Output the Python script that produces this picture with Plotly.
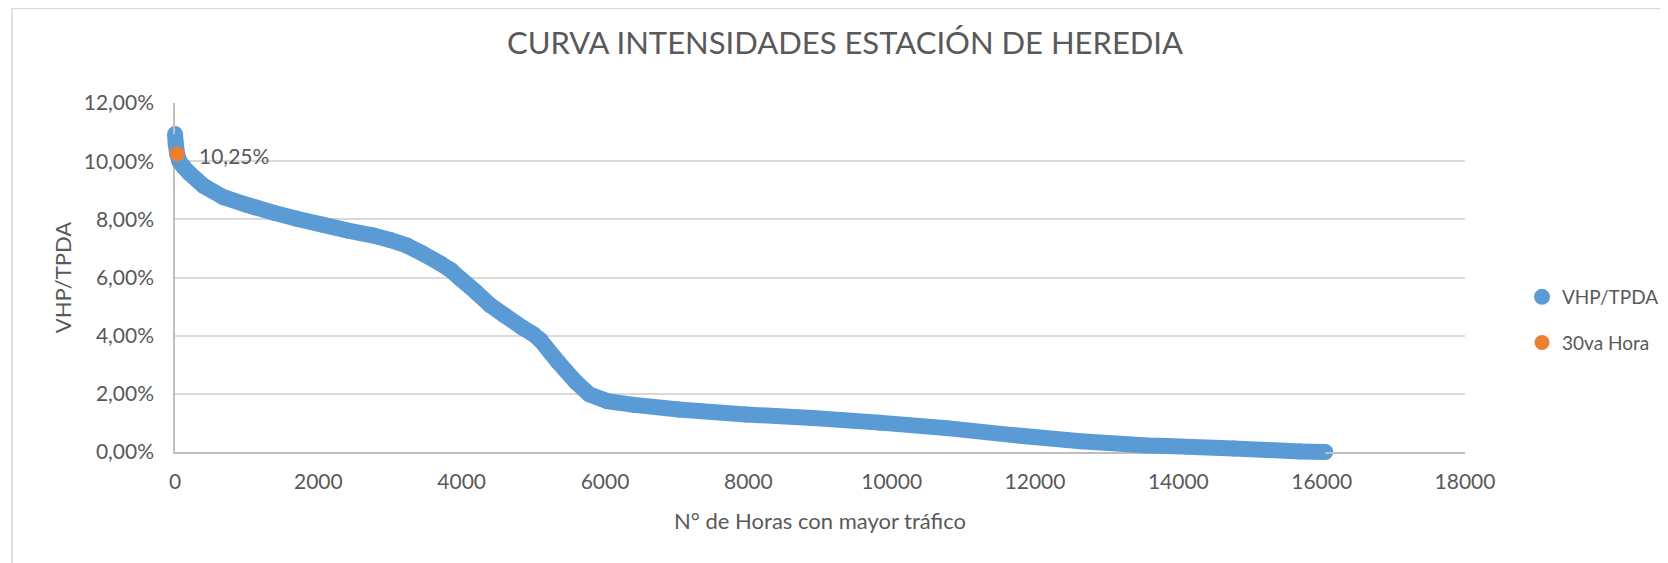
import plotly.graph_objects as go

# ---- data ----
hours = [1, 10, 30, 60, 120, 209, 400, 675, 1000, 1372, 1700, 2070, 2400, 2768,
         3000, 3233, 3450, 3698, 3850, 3977, 4200, 4396, 4600, 4847, 5000, 5097,
         5346, 5595, 5782, 6031, 6405, 7028, 7963, 8897, 9832, 10766, 11701,
         12636, 13570, 13841, 14771, 15701, 16050]
ratio = [0.1093, 0.1060, 0.1025, 0.1000, 0.0980, 0.0957, 0.0915, 0.0876, 0.0850,
         0.0823, 0.0802, 0.0781, 0.0762, 0.0744, 0.0729, 0.0710, 0.0683, 0.0649,
         0.0625, 0.0597, 0.0550, 0.0505, 0.0470, 0.0428, 0.0405, 0.0385, 0.0309,
         0.0240, 0.0198, 0.0175, 0.0162, 0.0146, 0.0129, 0.0117, 0.0101, 0.0082,
         0.0058, 0.0037, 0.0022, 0.0021, 0.0012, 0.0002, 0.0000]

hour30 = [30]
ratio30 = [0.1025]

x_range = [0, 18000]
y_range = [0, 0.12]
x_ticks = [0, 2000, 4000, 6000, 8000, 10000, 12000, 14000, 16000, 18000]
y_ticks = [0.00, 0.02, 0.04, 0.06, 0.08, 0.10, 0.12]

BLUE = "#5B9BD5"
ORANGE = "#ED7D31"
GREY = "#595959"
FONT = "Lato"

# ---- layout geometry (page pixels; the page adds an 8px body margin) ----
OFF = 8
W, H = 1668 - OFF, 563 - OFF
PX0, PX1, PY0, PY1 = 175, 1465, 103, 452     # main plot area (page px)
EXT = 12                                      # extra room so the thick band is not clipped
QX0, QX1, QY0, QY1 = PX0 - EXT, PX1 + EXT, PY0 - EXT, PY1 + EXT
L, R = QX0 - OFF, W - (QX1 - OFF)
T, B = QY0 - OFF, H - (QY1 - OFF)
PW, PH = QX1 - QX0, QY1 - QY0


def px_to_paper(px, py):
    return (px - QX0) / PW, (QY1 - py) / PH


kx = (x_range[1] - x_range[0]) / (PX1 - PX0)
ky = (y_range[1] - y_range[0]) / (PY1 - PY0)
x2_range = [x_range[0] - EXT * kx, x_range[1] + EXT * kx]
y2_range = [y_range[0] - EXT * ky, y_range[1] + EXT * ky]

fig = go.Figure()

# continuous band joining the points (overlay axes, so it is not clipped at the axes)
fig.add_trace(go.Scatter(
    x=hours, y=ratio, mode="lines", xaxis="x2", yaxis="y2",
    line=dict(color=BLUE, width=16, simplify=False),
    showlegend=False, hoverinfo="skip", cliponaxis=False))

# the points themselves, on the main axes
fig.add_trace(go.Scatter(
    x=hours, y=ratio, mode="markers", name="VHP/TPDA",
    marker=dict(color=BLUE, size=16), legendgroup="a", cliponaxis=False))

fig.add_trace(go.Scatter(
    x=hour30, y=ratio30, mode="markers", name="30va Hora", xaxis="x2", yaxis="y2",
    marker=dict(color=ORANGE, size=15), legendgroup="b", cliponaxis=False))

for hx, hy in zip(hour30, ratio30):
    fig.add_annotation(
        x=hx, y=hy, xref="x2", yref="y2",
        text=f"{hy * 100:.2f}%".replace(".", ","),
        showarrow=False, xanchor="left", yanchor="middle", xshift=20, yshift=-2,
        font=dict(family=FONT, size=21, color=GREY))

# outer chart border
bx0, by0 = px_to_paper(12, 8.5)
bx1, by1 = px_to_paper(1690, 580)
fig.add_shape(type="rect", xref="paper", yref="paper",
              x0=bx0, y0=by1, x1=bx1, y1=by0,
              line=dict(color="#D9D9D9", width=1.5), fillcolor="rgba(0,0,0,0)",
              layer="below")

lx, ly = px_to_paper(1522, 320)
dx = [(PX0 - QX0) / PW, (PX1 - QX0) / PW]
dy = [(QY1 - PY1) / PH, (QY1 - PY0) / PH]

fig.update_layout(
    width=W, height=H,
    margin=dict(l=L, r=R, t=T, b=B, autoexpand=False),
    paper_bgcolor="white", plot_bgcolor="rgba(0,0,0,0)",
    separators=",.",
    font=dict(family=FONT, color=GREY, size=21),
    title=dict(text="CURVA INTENSIDADES ESTACIÓN DE HEREDIA",
               x=(845 - OFF) / W, xanchor="center", xref="container",
               y=1 - (43 - OFF) / H, yanchor="middle", yref="container",
               font=dict(family=FONT, size=31, color=GREY)),
    xaxis=dict(domain=dx, anchor="y", range=x_range, tickvals=x_ticks, tickformat="d",
               showgrid=False, zeroline=False,
               showline=True, linecolor="#BFBFBF", linewidth=1.5,
               ticks="", ticklabelstandoff=10, automargin=False,
               tickfont=dict(family=FONT, size=21, color=GREY),
               title=dict(text="N° de Horas con mayor tráfico", standoff=22,
                          font=dict(family=FONT, size=22, color=GREY))),
    yaxis=dict(domain=dy, anchor="x", range=y_range, tickvals=y_ticks, tickformat=".2%",
               showgrid=True, gridcolor="#D9D9D9", gridwidth=1.5,
               zeroline=False, showline=True, linecolor="#BFBFBF", linewidth=1.5,
               ticks="", ticklabelstandoff=15, automargin=False,
               tickfont=dict(family=FONT, size=21, color=GREY),
               title=dict(text="VHP/TPDA", standoff=6,
                          font=dict(family=FONT, size=22, color=GREY))),
    xaxis2=dict(domain=[0, 1], anchor="y2", range=x2_range, visible=False,
                showgrid=False, zeroline=False, automargin=False),
    yaxis2=dict(domain=[0, 1], anchor="x2", range=y2_range, visible=False,
                showgrid=False, zeroline=False, automargin=False),
    legend=dict(x=lx, y=ly, xanchor="left", yanchor="middle",
                font=dict(family=FONT, size=19, color=GREY),
                tracegroupgap=18, bgcolor="rgba(0,0,0,0)"),
    showlegend=True,
)

fig.write_html("out.html")
